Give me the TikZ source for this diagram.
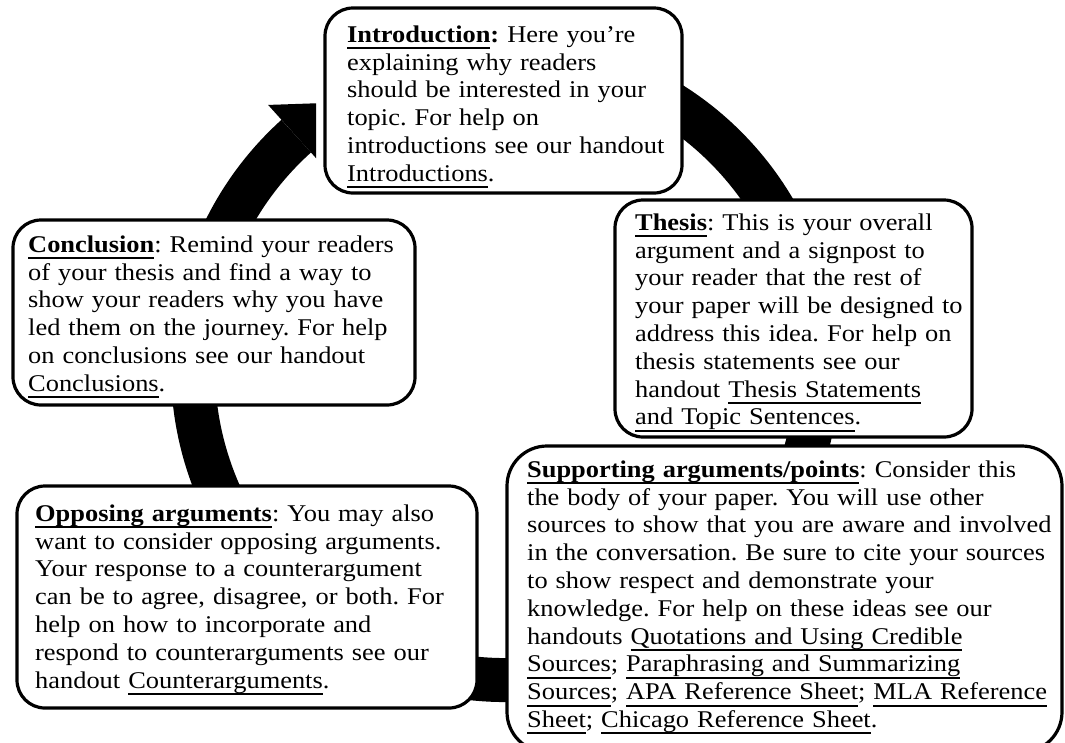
\documentclass[tikz,border=0pt]{standalone}
\usepackage{fontspec}
\setmainfont{Liberation Serif}[FakeStretch=1.1]
\usetikzlibrary{calc}
\newcommand{\undl}[1]{\leavevmode\setbox0\hbox{#1}\rlap{\rule[-7pt]{\wd0}{2pt}}\box0}
\frenchspacing

\begin{document}
\begin{tikzpicture}[x=1pt, y=-1pt,
  bubble/.style={draw, line width=3.2pt, fill=white, rounded corners=28pt},
  blurb/.style={anchor=north west, yshift=19.46pt, inner sep=0pt, text width=640pt,
    align=left, font=\fontsize{24pt}{27.8pt}\selectfont, execute at begin node=\strut}]
\useasboundingbox (0,0) rectangle (1065,742);

% the cycle behind the boxes
\coordinate (hub) at (505,368);
\draw[line width=44pt] (hub) ++(-80:312) arc[start angle=-80, end angle=228, radius=312] coordinate (tail);
\begin{scope}
  \clip (0,0) rectangle (316,742);
  \fill ($(tail)+(228:42)$) -- ($(tail)+(318:50)$) -- ($(tail)+(48:42)$) -- cycle;
\end{scope}

% boxes
\draw[bubble] (325,8) rectangle (682,193);
\draw[bubble] (615,200) rectangle (972,437);
\draw[bubble] (13,220) rectangle (415,405);
\draw[bubble] (17,486) rectangle (477,708);
\draw[bubble, rounded corners=40pt] (507,446) rectangle (1062,752);

% texts
\node[blurb] (intro) at (347,42) {\textbf{\undl{Introduction}:} Here you're\\
  explaining why readers\\
  should be interested in your\\
  topic. For help on\\
  introductions see our handout\\
  \undl{Introductions}.};
\node[blurb] (thesis) at (635,230) {\textbf{\undl{Thesis}}: This is your overall\\
  argument and a signpost to\\
  your reader that the rest of\\
  your paper will be designed to\\
  address this idea. For help on\\
  thesis statements see our\\
  handout \undl{Thesis Statements}\\
  \undl{and Topic Sentences}.};
\node[blurb] (concl) at (28,252) {\textbf{\undl{Conclusion}}: Remind your readers\\
  of your thesis and find a way to\\
  show your readers why you have\\
  led them on the journey. For help\\
  on conclusions see our handout\\
  \undl{Conclusions}.};
\node[blurb] (oppose) at (35,521) {\textbf{\undl{Opposing arguments}}: You may also\\
  want to consider opposing arguments.\\
  Your response to a counterargument\\
  can be to agree, disagree, or both. For\\
  help on how to incorporate and\\
  respond to counterarguments see our\\
  handout \undl{Counterarguments}.};
\node[blurb] (support) at (527,477) {\textbf{\undl{Supporting arguments/points}}: Consider this\\
  the body of your paper. You will use other\\
  sources to show that you are aware and involved\\
  in the conversation. Be sure to cite your sources\\
  to show respect and demonstrate your\\
  knowledge. For help on these ideas see our\\
  handouts \undl{Quotations and Using Credible}\\
  \undl{Sources}; \undl{Paraphrasing and Summarizing}\\
  \undl{Sources}; \undl{APA Reference Sheet}; \undl{MLA Reference}\\
  \undl{Sheet}; \undl{Chicago Reference Sheet}.};
\end{tikzpicture}
\end{document}
